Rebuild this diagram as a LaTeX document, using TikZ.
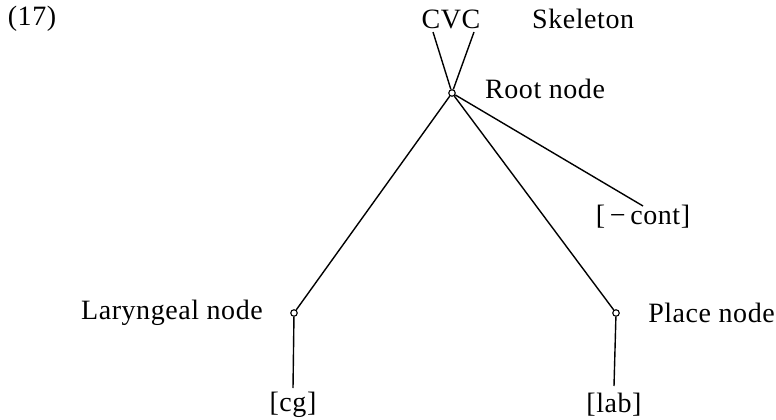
\documentclass[tikz,border=0pt]{standalone}
\usepackage{fontspec}
\setmainfont[LetterSpace=2]{Liberation Serif}
\begin{document}
\begin{tikzpicture}[x=1pt,y=-1pt,
  lbl/.style={font=\fontsize{28}{32}\selectfont, inner sep=0pt},
  dot/.style={circle,draw,minimum size=6.5pt,inner sep=0pt,line width=1.1pt,fill=white},
  edge/.style={line width=1.4pt}]
\useasboundingbox (0,0) rectangle (776,420);
\node[lbl] (ex) at (32,19) {(17)};
\node[lbl] (cvc) at (451,19) {CVC};
\node[lbl,anchor=west] (skel) at (532,19) {Skeleton};
\coordinate (c1) at (433,32);
\coordinate (c2) at (474,32);
\node[dot] (root) at (452,93) {};
\node[lbl,anchor=west] (rootl) at (485,89) {Root node};
\node[lbl] (cont) at (643,217) {[\,−\,cont]};
\coordinate (contend) at (643,206);
\node[dot] (lar) at (294,313) {};
\node[lbl,anchor=east] (larl) at (263,313) {Laryngeal node};
\node[dot] (pl) at (616,313) {};
\node[lbl,anchor=east] (pll) at (775,313) {Place node};
\node[lbl] (cg) at (293,405) {[cg]};
\node[lbl] (lab) at (614,405) {[lab]};
\coordinate (cgtop) at (293,388);
\coordinate (labtop) at (614,386);
\draw[edge] (c1) -- (root);
\draw[edge] (c2) -- (root);
\draw[edge] (root) -- (lar);
\draw[edge] (root) -- (pl);
\draw[edge] (root) -- (contend);
\draw[edge] (lar) -- (cgtop);
\draw[edge] (pl) -- (labtop);
\end{tikzpicture}
\end{document}
